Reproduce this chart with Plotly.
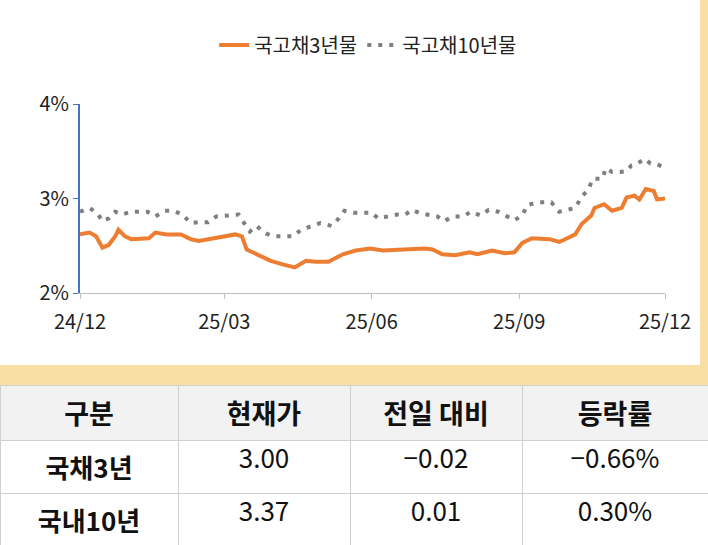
import plotly.graph_objects as go

dates_3y = ["2024-12-01", "2024-12-07", "2024-12-11", "2024-12-15", "2024-12-19", "2024-12-23",
            "2024-12-25", "2024-12-29", "2025-01-02", "2025-01-13", "2025-01-17", "2025-01-24",
            "2025-02-02", "2025-02-08", "2025-02-13", "2025-02-19", "2025-02-27", "2025-03-08",
            "2025-03-12", "2025-03-15", "2025-03-20", "2025-03-24", "2025-03-30", "2025-04-07",
            "2025-04-14", "2025-04-21", "2025-04-27", "2025-05-05", "2025-05-14", "2025-05-22",
            "2025-05-31", "2025-06-08", "2025-06-17", "2025-06-25", "2025-07-04", "2025-07-09",
            "2025-07-15", "2025-07-23", "2025-08-01", "2025-08-06", "2025-08-15", "2025-08-23",
            "2025-08-29", "2025-09-03", "2025-09-09", "2025-09-20", "2025-09-26", "2025-10-01",
            "2025-10-06", "2025-10-10", "2025-10-16", "2025-10-18", "2025-10-24", "2025-10-29",
            "2025-11-04", "2025-11-07", "2025-11-12", "2025-11-15", "2025-11-19", "2025-11-24",
            "2025-11-26", "2025-12-01"]
yield_3y = [2.62, 2.64, 2.60, 2.48, 2.51, 2.60, 2.67, 2.60, 2.57, 2.58, 2.64, 2.62,
            2.62, 2.57, 2.55, 2.57, 2.60, 2.62, 2.60, 2.46, 2.42, 2.39, 2.34, 2.30,
            2.27, 2.34, 2.33, 2.33, 2.41, 2.45, 2.47, 2.45, 2.46, 2.47, 2.47, 2.46,
            2.41, 2.40, 2.43, 2.41, 2.45, 2.42, 2.43, 2.53, 2.58, 2.57, 2.54, 2.58,
            2.62, 2.73, 2.82, 2.90, 2.94, 2.87, 2.90, 3.01, 3.03, 2.99, 3.10, 3.08,
            2.99, 3.00]

dates_10y = ["2024-12-01", "2024-12-07", "2024-12-12", "2024-12-15", "2024-12-19", "2024-12-23",
             "2024-12-27", "2025-01-02", "2025-01-12", "2025-01-17", "2025-01-23", "2025-01-28",
             "2025-02-03", "2025-02-08", "2025-02-13", "2025-02-19", "2025-02-24", "2025-03-03",
             "2025-03-10", "2025-03-13", "2025-03-17", "2025-03-21", "2025-03-27", "2025-04-01",
             "2025-04-07", "2025-04-13", "2025-04-18", "2025-04-24", "2025-04-30", "2025-05-07",
             "2025-05-11", "2025-05-15", "2025-05-21", "2025-05-26", "2025-06-01", "2025-06-05",
             "2025-06-11", "2025-06-17", "2025-06-22", "2025-06-26", "2025-07-02", "2025-07-07",
             "2025-07-12", "2025-07-16", "2025-07-22", "2025-07-28", "2025-08-02", "2025-08-08",
             "2025-08-13", "2025-08-19", "2025-08-24", "2025-08-29", "2025-09-03", "2025-09-06",
             "2025-09-13", "2025-09-21", "2025-09-26", "2025-10-01", "2025-10-06", "2025-10-10",
             "2025-10-14", "2025-10-17", "2025-10-23", "2025-10-25", "2025-10-29", "2025-11-03",
             "2025-11-07", "2025-11-10", "2025-11-14", "2025-11-18", "2025-11-22", "2025-11-26",
             "2025-11-29"]
yield_10y = [2.86, 2.90, 2.84, 2.76, 2.79, 2.86, 2.83, 2.86, 2.86, 2.81, 2.87, 2.87,
             2.83, 2.74, 2.75, 2.75, 2.81, 2.82, 2.83, 2.75, 2.65, 2.71, 2.63, 2.60,
             2.60, 2.60, 2.67, 2.71, 2.74, 2.71, 2.78, 2.87, 2.85, 2.85, 2.85, 2.79,
             2.81, 2.83, 2.83, 2.88, 2.84, 2.83, 2.81, 2.76, 2.81, 2.81, 2.86, 2.82,
             2.88, 2.86, 2.82, 2.77, 2.82, 2.93, 2.96, 2.96, 2.86, 2.88, 2.90, 3.02,
             3.09, 3.21, 3.21, 3.32, 3.28, 3.28, 3.29, 3.35, 3.37, 3.42, 3.37, 3.36,
             3.34]

tick_vals = ["2024-12-01", "2025-03-01", "2025-06-01", "2025-09-01", "2025-12-01"]
tick_text = ["24/12", "25/03", "25/06", "25/09", "25/12"]

table_header = ["구분", "현재가", "전일 대비", "등락률"]
table_names = ["<b>국채3년</b>", "<b>국내10년</b>"]
table_price = ["3.00", "3.37"]
table_change = ["−0.02", "0.01"]
table_rate = ["−0.66%", "0.30%"]

font = "Noto Sans CJK KR"
H = 545

fig = go.Figure()
fig.add_trace(go.Scatter(
    x=dates_3y, y=yield_3y, mode="lines", name="국고채3년물",
    line=dict(color="#ED7D31", width=4),
))
fig.add_trace(go.Scatter(
    x=dates_10y, y=yield_10y, mode="lines", name="국고채10년물",
    line=dict(color="#7F7F7F", width=4, dash="4px,7px"),
))

fig.add_trace(go.Table(
    domain=dict(x=[0, 1], y=[0, 1 - 385 / H]),
    columnwidth=[178, 172, 172, 186],
    header=dict(
        values=[f"<b>{h}</b>" for h in table_header],
        fill_color="#F2F2F2", line_color="#D0D0D0", height=55,
        font=dict(family=font, size=27, color="#111111"), align="center",
    ),
    cells=dict(
        values=[table_names, table_price, table_change, table_rate],
        fill_color="white", line_color="#D0D0D0", height=52,
        font=dict(family=font, size=26, color="#111111"), align="center",
    ),
))

fig.add_shape(type="rect", xref="paper", yref="paper", x0=0, x1=700 / 708,
              y0=1 - 365 / H, y1=1, fillcolor="white", line_width=0, layer="below")

fig.update_layout(
    width=708, height=545, autosize=False,
    margin=dict(l=0, r=0, t=0, b=0, pad=0, autoexpand=False),
    paper_bgcolor="#F9DFA3", plot_bgcolor="white",
    font=dict(family=font, size=19, color="#222222"),
    showlegend=True,
    legend=dict(orientation="h", x=0.52, xanchor="center", y=1 - 45 / H, yanchor="middle",
                bgcolor="rgba(0,0,0,0)", font=dict(size=20)),
    xaxis=dict(
        domain=[80 / 708, 665 / 708], range=["2024-12-01", "2025-12-01"],
        tickvals=tick_vals, ticktext=tick_text, showgrid=False,
        showline=True, linecolor="#BFBFBF", linewidth=1,
        ticks="outside", ticklen=5, tickcolor="#BFBFBF", tickfont=dict(size=20),
        ticklabelstandoff=6,
    ),
    yaxis=dict(
        domain=[1 - 293 / H, 1 - 104 / H], range=[2, 4], dtick=1, ticksuffix="%",
        showgrid=False, zeroline=False, showline=True, linecolor="#4472C4", linewidth=2,
        ticks="outside", ticklen=5, tickcolor="#4472C4", tickfont=dict(size=20),
    ),
)

fig.write_html("out.html", config={"displayModeBar": False},
               post_script="document.body.style.margin='0';")
